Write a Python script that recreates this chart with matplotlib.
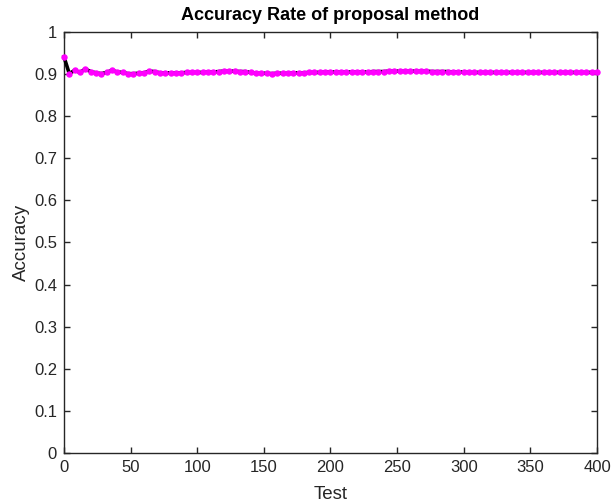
import numpy as np
import matplotlib
matplotlib.use("Agg")
import matplotlib.pyplot as plt

plt.rcParams['font.family'] = ['Liberation Sans', 'DejaVu Sans']

# data: accuracy sampled every 4 tests
test = list(range(0, 401, 4))
accuracy = [
    0.941, 0.901, 0.909, 0.904, 0.912, 0.906, 0.903, 0.901, 0.904, 0.909,
    0.905, 0.904, 0.901, 0.901, 0.902, 0.903, 0.907, 0.906, 0.903, 0.903,
    0.903, 0.903, 0.903, 0.904, 0.904, 0.904, 0.904, 0.905, 0.905, 0.906,
    0.907, 0.907, 0.907, 0.906, 0.906, 0.904, 0.902, 0.902, 0.902, 0.901,
    0.902, 0.902, 0.902, 0.903, 0.903, 0.903, 0.904, 0.904, 0.904, 0.905,
    0.905, 0.905, 0.905, 0.905, 0.905, 0.905, 0.905, 0.905, 0.906, 0.906,
    0.906, 0.907, 0.907, 0.907, 0.907, 0.907, 0.907, 0.907, 0.907, 0.906,
    0.906, 0.906, 0.906, 0.905, 0.905, 0.905, 0.904, 0.904, 0.904, 0.904,
    0.904, 0.904, 0.904, 0.904, 0.904, 0.904, 0.904, 0.904, 0.904, 0.904,
    0.904, 0.904, 0.904, 0.904, 0.904, 0.904, 0.904, 0.904, 0.904, 0.904,
    0.904,
]
xticks = [0, 50, 100, 150, 200, 250, 300, 350, 400]
yticks = [0, 0.1, 0.2, 0.3, 0.4, 0.5, 0.6, 0.7, 0.8, 0.9, 1]

fig = plt.figure(figsize=(6.11, 5.04), dpi=100)
ax = fig.add_axes([0.1047, 0.1012, 0.8724, 0.8353])

ax.plot(test, accuracy, color="black", lw=2.6, marker="o", ms=3.6,
        mfc="magenta", mec="magenta", zorder=3, clip_on=False)

ax.set_xlim(0, 400)
ax.set_ylim(0, 1)
ax.set_xticks(xticks)
ax.set_yticks(yticks)
ax.set_yticklabels(["0", "0.1", "0.2", "0.3", "0.4", "0.5", "0.6", "0.7", "0.8", "0.9", "1"])

gray = "#262626"
for s in ax.spines.values():
    s.set_color(gray)
    s.set_linewidth(1.0)
ax.tick_params(direction="in", top=True, right=True, length=4, width=1.0,
               colors=gray, labelsize=12, pad=5)

ax.set_title("Accuracy Rate of proposal method", fontsize=13, fontweight="bold", pad=9)
ax.set_xlabel("Test", fontsize=13.5, color=gray, labelpad=8)
ax.set_ylabel("Accuracy", fontsize=13.5, color=gray, labelpad=3)

plt.savefig("out.png", dpi=100)
plt.close(fig)
